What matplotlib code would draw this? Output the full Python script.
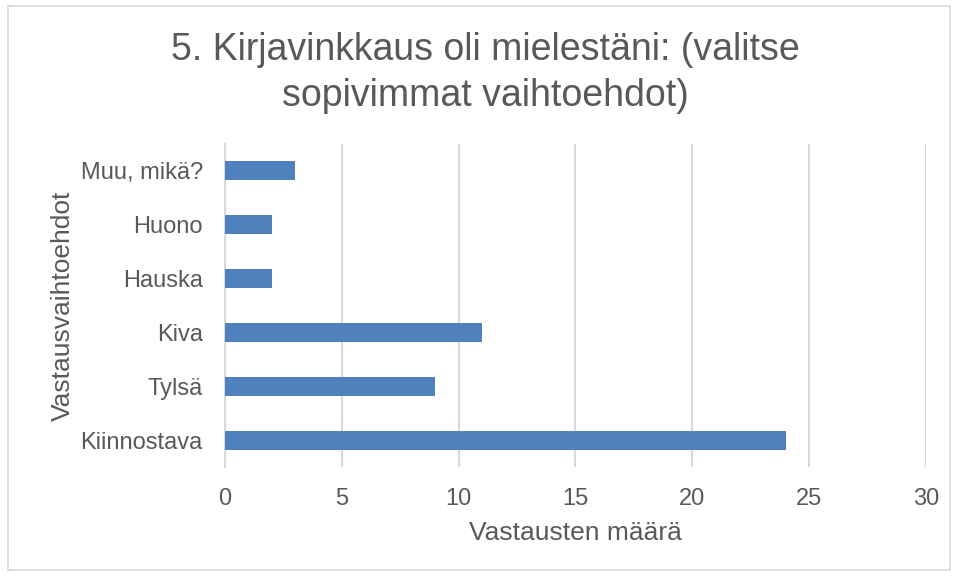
import matplotlib.pyplot as plt
from matplotlib.patches import Rectangle

plt.rcParams['font.family'] = ['Liberation Sans', 'DejaVu Sans']

# data (bottom to top, as drawn)
categories = ['Kiinnostava', 'Tylsä', 'Kiva', 'Hauska', 'Huono', 'Muu, mikä?']
counts = [24, 9, 11, 2, 2, 3]

title = '5. Kirjavinkkaus oli mielestäni: (valitse\nsopivimmat vaihtoehdot)'
xlabel = 'Vastausten määrä'
ylabel = 'Vastausvaihtoehdot'

txt = '#595959'
bar_color = '#4F81BD'
grid_color = '#D9D9D9'

fig = plt.figure(figsize=(9.59, 5.76), dpi=100)
ax = fig.add_axes([0.2346, 0.1892, 0.731, 0.5608])

y = range(len(categories))
ax.barh(y, counts, height=0.35, color=bar_color, zorder=3)

ax.set_xlim(0, 30)
ax.set_ylim(-0.5, len(categories) - 0.5)
ax.set_xticks(range(0, 31, 5))
ax.set_yticks(list(y))
ax.set_yticklabels(categories)

ax.grid(axis='x', color=grid_color, linewidth=1.5, zorder=0)
for s in ['top', 'right', 'bottom']:
    ax.spines[s].set_visible(False)
ax.spines['left'].set_color(grid_color)
ax.spines['left'].set_linewidth(1.5)
ax.tick_params(axis='both', length=0, labelsize=17, colors=txt)
ax.tick_params(axis='y', pad=16)
ax.tick_params(axis='x', pad=15)

ax.set_xlabel(xlabel, fontsize=19, color=txt, labelpad=8)
ax.set_ylabel(ylabel, fontsize=19, color=txt, labelpad=4)

fig.text(0.506, 0.873, title, ha='center', va='center', fontsize=27,
         color=txt, linespacing=1.38)

# light border around the chart
fig.patches.append(Rectangle((8 / 959, 6 / 576), 942 / 959, 564 / 576,
                             transform=fig.transFigure, fill=False,
                             edgecolor=grid_color, linewidth=1.2))

fig.savefig('out.png', dpi=100)
